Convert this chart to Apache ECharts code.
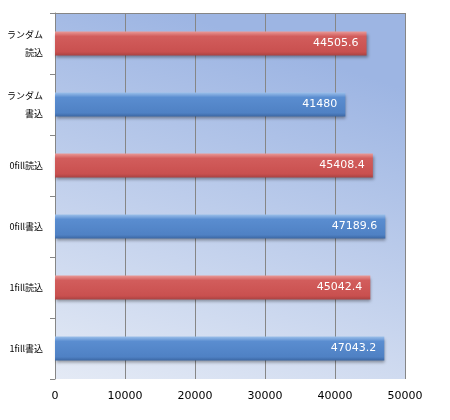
<!DOCTYPE html>
<html>
<head>
<meta charset="utf-8">
<script src="https://cdn.jsdelivr.net/npm/echarts@6/dist/echarts.min.js"></script>
<style>
  html, body { margin: 0; padding: 0; background: #fff; }
  #main { width: 450px; height: 420px; }
</style>
</head>
<body>
<div id="main"></div>
<script>
// categories, top to bottom
var categories = ['ランダム\n読込', 'ランダム\n書込', '0fill読込', '0fill書込', '1fill読込', '1fill書込'];
var values = [44505.6, 41480, 45408.4, 47189.6, 45042.4, 47043.2];
var kinds = ['read', 'write', 'read', 'write', 'read', 'write'];
var xTicks = [0, 10000, 20000, 30000, 40000, 50000];

function barFill(kind) {
  var c = kind === 'read'
    ? ['#e99a98', '#d25d5c', '#c9504f', '#a84242']
    : ['#9cc0ea', '#5a8dd0', '#4f81c4', '#3c67a3'];
  return new echarts.graphic.LinearGradient(0, 0, 0, 1, [
    { offset: 0, color: c[0] },
    { offset: 0.2, color: c[1] },
    { offset: 0.85, color: c[2] },
    { offset: 1, color: c[3] }
  ]);
}

var chart = echarts.init(document.getElementById('main'));
chart.setOption({
  animation: false,
  grid: {
    left: 55, right: 45, top: 13, bottom: 41,
    show: true,
    borderWidth: 0,
    backgroundColor: new echarts.graphic.LinearGradient(0, 1, 0.35, 0, [
      { offset: 0, color: '#e4eaf5' },
      { offset: 1, color: '#9db5e3' }
    ])
  },
  xAxis: [{
    type: 'value',
    min: 0, max: 50000, interval: 10000,
    position: 'bottom',
    axisLine: { show: false },
    axisTick: { show: false },
    splitLine: { show: true, lineStyle: { color: '#868686', width: 1 } },
    axisLabel: {
      color: '#000', fontSize: 11, fontFamily: 'DejaVu Sans', margin: 12,
      formatter: function (v) { return xTicks.indexOf(v) >= 0 ? String(v) : ''; }
    }
  }, {
    type: 'value',
    min: 0, max: 50000,
    position: 'top',
    axisLine: { show: true, lineStyle: { color: '#868686' } },
    axisTick: { show: false },
    axisLabel: { show: false },
    splitLine: { show: false }
  }],
  yAxis: {
    type: 'category',
    data: categories,
    inverse: true,
    axisLine: { show: true, lineStyle: { color: '#868686' } },
    axisTick: { show: true, length: 5, lineStyle: { color: '#868686' } },
    axisLabel: {
      color: '#000', fontSize: 9, margin: 12, lineHeight: 18,
      fontFamily: 'Noto Sans CJK JP'
    }
  },
  series: [{
    type: 'bar',
    barWidth: 24,
    data: values.map(function (v, i) {
      return {
        value: v,
        itemStyle: {
          color: barFill(kinds[i]),
          shadowColor: 'rgba(0,0,0,0.35)',
          shadowBlur: 3,
          shadowOffsetX: 1,
          shadowOffsetY: 2
        }
      };
    }),
    label: {
      show: true,
      position: 'insideRight',
      color: '#fff',
      fontSize: 11,
      fontFamily: 'DejaVu Sans',
      distance: 8
    }
  }]
});
</script>
</body>
</html>
